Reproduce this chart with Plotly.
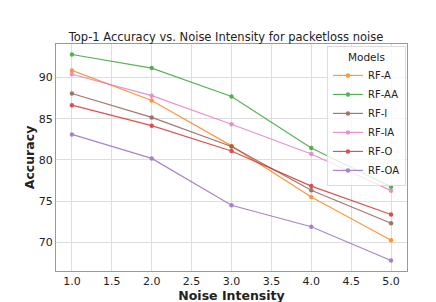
import plotly.graph_objects as go

noise = [1.0, 2.0, 3.0, 4.0, 5.0]
models = ["RF-A", "RF-AA", "RF-I", "RF-IA", "RF-O", "RF-OA"]
rf_a = [90.86, 87.2, 81.7, 75.5, 70.24]
rf_aa = [92.79, 91.14, 87.7, 81.43, 76.74]
rf_i = [88.06, 85.15, 81.63, 76.31, 72.32]
rf_ia = [90.39, 87.79, 84.32, 80.72, 76.27]
rf_o = [86.64, 84.15, 81.08, 76.82, 73.38]
rf_oa = [83.09, 80.18, 74.5, 71.89, 67.79]
series = [rf_a, rf_aa, rf_i, rf_ia, rf_o, rf_oa]
colors = ["#ff7f0e", "#2ca02c", "#8c564b", "#e377c2", "#d62728", "#9467bd"]

fig = go.Figure()
for name, vals, c in zip(models, series, colors):
    fig.add_trace(go.Scatter(
        x=noise, y=vals, name=name, mode="lines+markers",
        line=dict(color=c, width=1.2), marker=dict(color=c, size=4.5),
        opacity=0.8,
    ))

font = "DejaVu Sans"
fig.update_layout(
    width=436, height=302,
    margin=dict(l=48, r=37, t=36, b=33),
    paper_bgcolor="white", plot_bgcolor="white",
    font=dict(family=font, color="#222222", size=11),
    title=dict(text="Top-1 Accuracy vs. Noise Intensity for packetloss noise",
               x=0.5, xanchor="center", y=1 - 29 / 302, yanchor="middle",
               font=dict(size=11.5, color="#222222")),
    showlegend=True,
    legend=dict(
        title=dict(text="Models", side="top center", font=dict(size=10.5)),
        x=0.997, xanchor="right", y=0.99, yanchor="top",
        bgcolor="rgba(255,255,255,0.8)", bordercolor="#dddddd", borderwidth=1,
        font=dict(size=10), tracegroupgap=0, itemwidth=30,
    ),
)
fig.update_xaxes(
    range=[0.8, 5.2], tickmode="array",
    tickvals=[1.0, 1.5, 2.0, 2.5, 3.0, 3.5, 4.0, 4.5, 5.0],
    ticktext=["1.0", "1.5", "2.0", "2.5", "3.0", "3.5", "4.0", "4.5", "5.0"],
    showgrid=True, gridcolor="#dedede", gridwidth=1,
    showline=True, linecolor="#999999", linewidth=1, mirror=True,
    ticks="", zeroline=False,
    title=dict(text="<b>Noise Intensity</b>", font=dict(size=12.5), standoff=1),
)
fig.update_yaxes(
    range=[66.52, 94.06], tickmode="array",
    tickvals=[70, 75, 80, 85, 90], ticktext=["70", "75", "80", "85", "90"],
    showgrid=True, gridcolor="#dedede", gridwidth=1,
    showline=True, linecolor="#999999", linewidth=1, mirror=True,
    ticks="", zeroline=False,
    title=dict(text="<b>Accuracy</b>", font=dict(size=12.5), standoff=1),
)
fig.write_html("out.html")
